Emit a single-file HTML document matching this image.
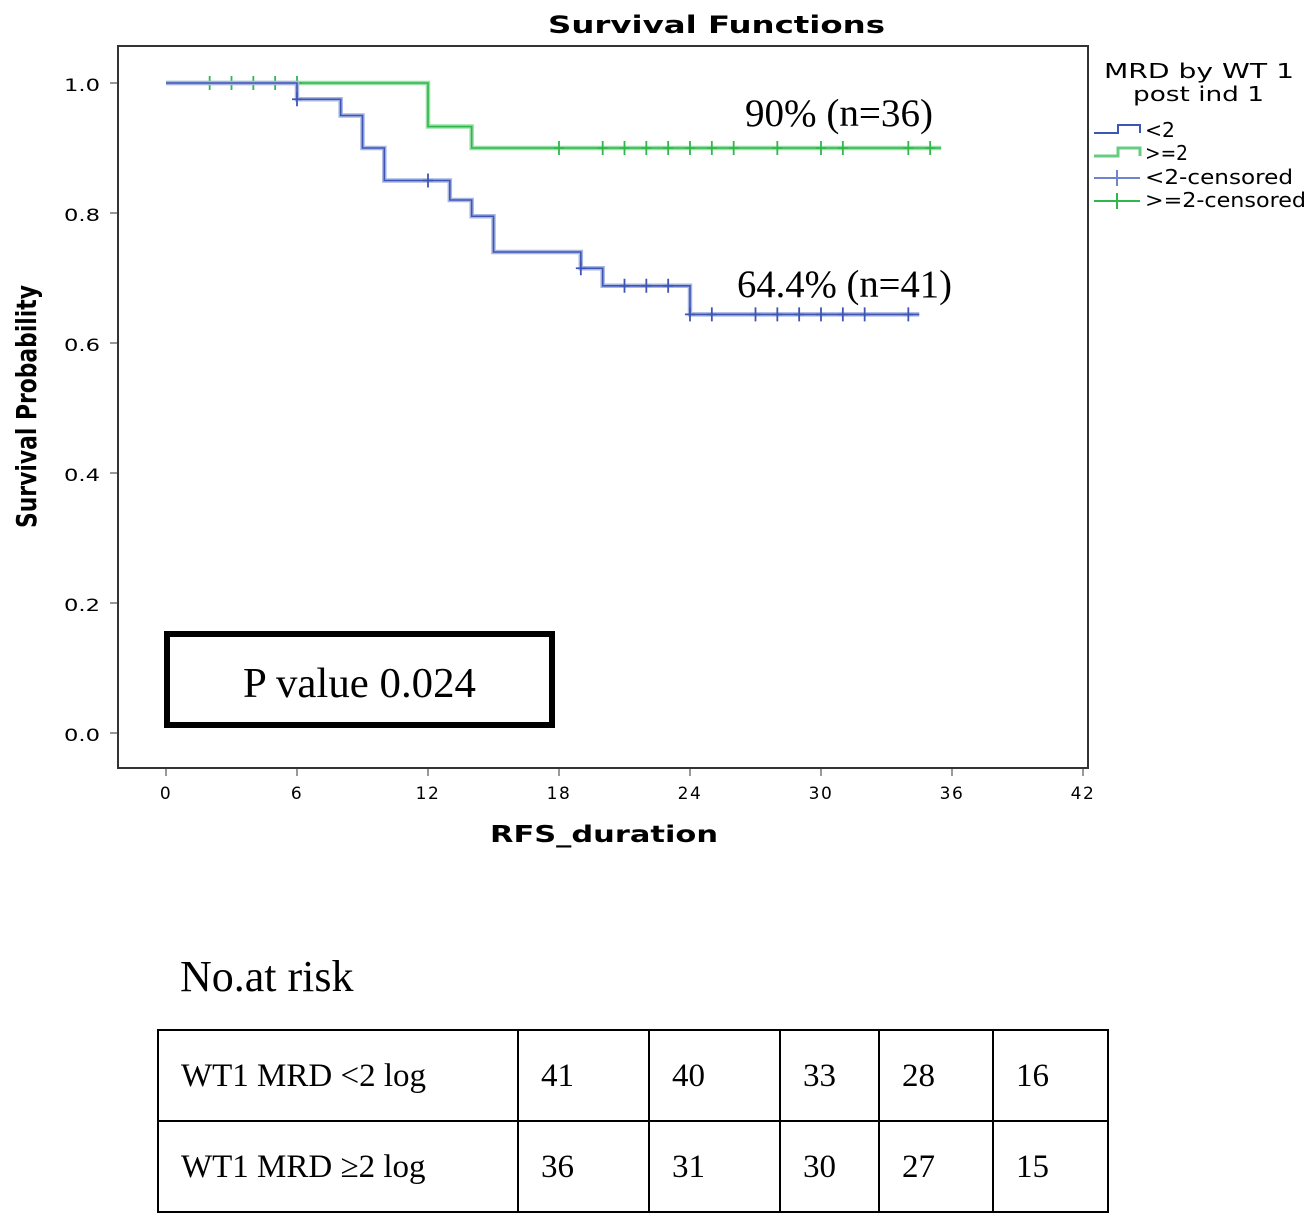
<!DOCTYPE html>
<html><head><meta charset="utf-8"><style>
body{margin:0;background:#fff;width:1312px;height:1220px;overflow:hidden;position:relative}
.s{font-family:"DejaVu Sans","Liberation Sans",sans-serif}
.serif{font-family:"Liberation Serif",serif}
table{position:absolute;left:157px;top:1029px;border-collapse:collapse;table-layout:fixed;width:950px;font-family:"Liberation Serif",serif;font-size:33px}
td{border:2px solid #000;height:91px;padding:2px 0 0 22px;vertical-align:middle;box-sizing:border-box}
</style></head><body>
<svg width="1312" height="1000" style="position:absolute;left:0;top:0">
<text x="548" y="33" textLength="337" lengthAdjust="spacingAndGlyphs" class="s" font-weight="bold" font-size="24">Survival Functions</text>
<rect x="118" y="46" width="970" height="722" fill="none" stroke="#333" stroke-width="2"/>
<g id="axes"></g>
<g id="curves"></g>
<text x="490" y="842" textLength="228" lengthAdjust="spacingAndGlyphs" class="s" font-weight="bold" font-size="23">RFS_duration</text>
<text transform="translate(36,528) rotate(-90)" textLength="243" lengthAdjust="spacingAndGlyphs" class="s" font-weight="bold" font-size="28">Survival Probability</text>
<text x="745" y="126" textLength="188" lengthAdjust="spacingAndGlyphs" class="serif" font-size="39">90% (n=36)</text>
<text x="737" y="297" textLength="215" lengthAdjust="spacingAndGlyphs" class="serif" font-size="39">64.4% (n=41)</text>
<rect x="167" y="634" width="385" height="91" fill="none" stroke="#000" stroke-width="6"/>
<text x="243" y="697" textLength="233" lengthAdjust="spacingAndGlyphs" class="serif" font-size="42">P value 0.024</text>
<g class="s" font-size="20">
<text x="1104" y="78" textLength="190" lengthAdjust="spacingAndGlyphs">MRD by WT 1</text>
<text x="1133" y="101" textLength="131" lengthAdjust="spacingAndGlyphs">post ind 1</text>
<path d="M1094 133 H1118 V125 H1140 V133" fill="none" stroke="#3d56b5" stroke-width="2"/>
<text x="1145" y="137" textLength="30" lengthAdjust="spacingAndGlyphs">&lt;2</text>
<path d="M1094 156 H1118 V148 H1140 V156" fill="none" stroke="#66cc80" stroke-width="3"/>
<text x="1145" y="160" textLength="43" lengthAdjust="spacingAndGlyphs">&gt;=2</text>
<path d="M1094 178 H1140 M1117 170 V186" stroke="#6f84cc" stroke-width="2"/>
<text x="1145" y="184" textLength="148" lengthAdjust="spacingAndGlyphs">&lt;2-censored</text>
<path d="M1094 201 H1140 M1117 193 V209" stroke="#2eb84a" stroke-width="2"/>
<text x="1145" y="207" textLength="161" lengthAdjust="spacingAndGlyphs">&gt;=2-censored</text>
</g>
</svg>
<div class="serif" style="position:absolute;left:180px;top:951px;font-size:44px">No.at risk</div>
<table>
<colgroup><col style="width:360px"><col style="width:131px"><col style="width:131px"><col style="width:99px"><col style="width:114px"><col style="width:115px"></colgroup>
<tr><td>WT1 MRD &lt;2 log</td><td>41</td><td>40</td><td>33</td><td>28</td><td>16</td></tr>
<tr><td>WT1 MRD ≥2 log</td><td>36</td><td>31</td><td>30</td><td>27</td><td>15</td></tr>
</table>
<script>
const xTicks=[0,6,12,18,24,30,36,42];
const yTicks=[0.0,0.2,0.4,0.6,0.8,1.0];
const blueTimes=[0,6,8,9,10,13,14,15,19,20,24];
const blueSurv=[1.0,0.975,0.95,0.9,0.85,0.82,0.795,0.74,0.715,0.688,0.644];
const blueEnd=34.5;
const blueCensT=[6,12,19,21,22,23,24,25,27,28,29,30,31,32,34];
const greenTimes=[0,12,14];
const greenSurv=[1.0,0.933,0.9];
const greenEnd=35.5;
const greenCensT=[2,3,4,5,6,18,20,21,22,23,24,25,26,28,30,31,34,35];
const X=t=>166+t*(1083-166)/42;
const Y=v=>733-v*650;
const NS='http://www.w3.org/2000/svg';
function mk(tag,attrs,parent){const e=document.createElementNS(NS,tag);for(const k in attrs)e.setAttribute(k,attrs[k]);parent.appendChild(e);return e;}
const ax=document.getElementById('axes');
xTicks.forEach(t=>{
 const l=mk('line',{x1:X(t),x2:X(t),y1:768,y2:776,stroke:'#333'},ax);
 
 
 const tx=mk('text',{x:X(t),y:799,'text-anchor':'middle','font-size':17,'letter-spacing':1.5,'class':'s'},ax);
 tx.textContent=t;
 
 
});
yTicks.forEach(v=>{
 const l=mk('line',{x1:110,x2:118,y1:Y(v),y2:Y(v),stroke:'#333'},ax);
 
 
 const tx=mk('text',{x:64,y:Y(v)+8,textLength:36,lengthAdjust:'spacingAndGlyphs','font-size':17,'class':'s'},ax);
 tx.textContent=v.toFixed(1);
 
 
});
function interp(times,surv,t){let s=surv[0];for(let i=0;i<times.length;i++)if(times[i]<=t)s=surv[i];return s;}
function curve(times,surv,end,cens,color,light,name){
 const g=document.getElementById('curves');
 let d='M'+X(times[0])+' '+Y(surv[0]);
 for(let i=1;i<times.length;i++){d+=' H'+X(times[i])+' V'+Y(surv[i]);}
 d+=' H'+X(end);
 const sh=mk('path',{d:d,fill:'none',stroke:light,'stroke-width':4.5},g);
 
 
 const p=mk('path',{d:d,fill:'none',stroke:color,'stroke-width':1.6},g);
 
 
 cens.forEach(t=>{
  const v=interp(times,surv,t);
  const c=mk('path',{d:'M'+(X(t)-5)+' '+Y(v)+' H'+(X(t)+5)+' M'+X(t)+' '+(Y(v)-7)+' V'+(Y(v)+7),stroke:color,'stroke-width':1.8},g);
  
  
 });
}
curve(greenTimes,greenSurv,greenEnd,greenCensT,'#2eb84a','#9be0aa','green');
curve(blueTimes,blueSurv,blueEnd,blueCensT,'#3d56b5','#a9b6e2','blue');
</script>
</body></html>
